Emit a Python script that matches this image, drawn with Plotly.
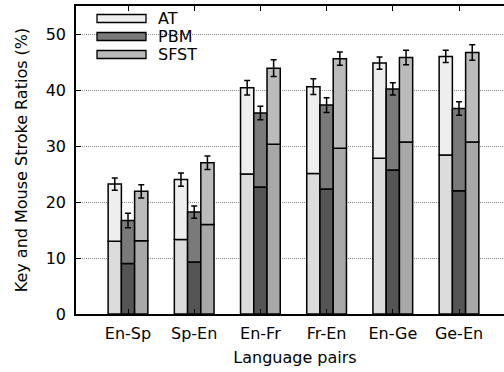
import plotly.graph_objects as go

pairs = ["En-Sp", "Sp-En", "En-Fr", "Fr-En", "En-Ge", "Ge-En"]
methods = ["AT", "PBM", "SFST"]

at_total = [23.2, 24.0, 40.4, 40.6, 44.8, 46.0]
at_lower = [13.0, 13.3, 25.0, 25.1, 27.8, 28.4]
at_err = [1.1, 1.2, 1.3, 1.4, 1.1, 1.1]

pbm_total = [16.7, 18.2, 35.9, 37.3, 40.2, 36.7]
pbm_lower = [9.0, 9.3, 22.7, 22.3, 25.7, 22.0]
pbm_err = [1.3, 1.1, 1.2, 1.3, 1.1, 1.2]

sfst_total = [21.9, 27.0, 43.9, 45.6, 45.8, 46.7]
sfst_lower = [13.1, 16.0, 30.3, 29.6, 30.7, 30.7]
sfst_err = [1.2, 1.2, 1.5, 1.2, 1.3, 1.4]

lower_colors = {"AT": "#dcdcdc", "PBM": "#555555", "SFST": "#a8a8a8"}
upper_colors = {"AT": "#eeeeee", "PBM": "#7a7a7a", "SFST": "#bbbbbb"}

series = {
    "AT": (at_total, at_lower, at_err),
    "PBM": (pbm_total, pbm_lower, pbm_err),
    "SFST": (sfst_total, sfst_lower, sfst_err),
}

FONT = "DejaVu Sans, Liberation Sans, Arial, sans-serif"

fig = go.Figure()
for m in methods:
    total, lower, err = series[m]
    fig.add_trace(go.Bar(
        x=pairs, y=lower, offsetgroup=m, name=m + " lower", showlegend=False,
        marker=dict(color=lower_colors[m], line=dict(color="black", width=1.5)),
    ))
    fig.add_trace(go.Bar(
        x=pairs, y=[t - l for t, l in zip(total, lower)], base=lower,
        offsetgroup=m, name=m, showlegend=False,
        marker=dict(color=upper_colors[m], line=dict(color="black", width=1.5)),
        error_y=dict(type="data", array=err, color="black", thickness=1.5, width=3),
    ))

# figure is slightly wider than the window: the right frame falls outside, as in the reference
W, H = 524, 372
L, R, T, B = 76, 514, 6, 314

def px2paper_x(px):
    return (px - L) / (R - L)

def px2paper_y(py):
    return (B - py) / (B - T)

shapes = [dict(type="rect", xref="paper", yref="paper",
               x0=px2paper_x(92), x1=px2paper_x(205), y0=px2paper_y(64), y1=px2paper_y(10),
               fillcolor="white", line=dict(width=0), layer="between")]
annotations = []
for i, m in enumerate(methods):
    cy = 18.5 + 18 * i
    shapes.append(dict(type="rect", xref="paper", yref="paper",
                       x0=px2paper_x(97), x1=px2paper_x(146),
                       y0=px2paper_y(cy + 4), y1=px2paper_y(cy - 4),
                       fillcolor=upper_colors[m], line=dict(color="black", width=1.3),
                       layer="above"))
    annotations.append(dict(text=m, xref="paper", yref="paper",
                            x=px2paper_x(156), y=px2paper_y(cy), xanchor="left",
                            yanchor="middle", showarrow=False,
                            font=dict(size=16, color="black", family=FONT)))

spacing = 66.2
x_lo = -(128 - L) / spacing
x_hi = 5 + (R - 459) / spacing

fig.update_layout(
    width=W, height=H,
    margin=dict(l=L, r=W - R, t=T, b=H - B, autoexpand=False),
    paper_bgcolor="white", plot_bgcolor="white",
    barmode="group", bargap=0.4, bargroupgap=0,
    font=dict(family=FONT, size=16, color="black"),
    shapes=shapes, annotations=annotations,
    xaxis=dict(
        title=dict(text="Language pairs", standoff=10, font=dict(size=16)),
        range=[x_lo, x_hi], showline=True, linecolor="black", linewidth=1.5,
        mirror="ticks", ticks="inside", ticklen=5, tickcolor="black",
        showgrid=False, tickfont=dict(size=16), automargin=False,
        ticklabelstandoff=4,
    ),
    yaxis=dict(
        title=dict(text="Key and Mouse Stroke Ratios (%)", standoff=14, font=dict(size=16)),
        range=[0, 55], tickvals=[0, 10, 20, 30, 40, 50],
        showline=True, linecolor="black", linewidth=1.5,
        mirror="ticks", ticks="inside", ticklen=5, tickcolor="black",
        showgrid=True, gridcolor="#888888", griddash="1px,1px", gridwidth=1,
        zeroline=False, tickfont=dict(size=16), automargin=False,
        ticklabelstandoff=5,
    ),
)

fig.write_html(
    "out.html",
    config={"displayModeBar": False},
    post_script="document.body.style.margin='0';document.body.style.overflow='hidden';",
)
